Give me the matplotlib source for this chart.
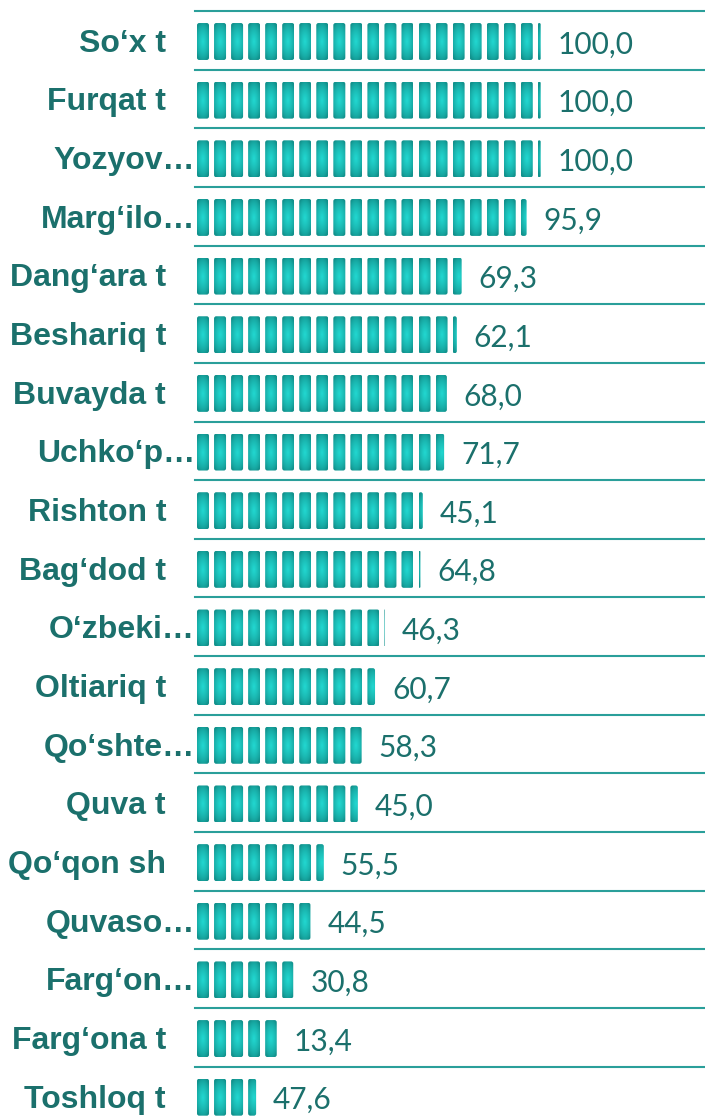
import numpy as np
import matplotlib
matplotlib.use('Agg')
import matplotlib.pyplot as plt
from matplotlib.patches import FancyBboxPatch

# district names as shown on the axis (long ones are cut with an ellipsis)
names = ['So‘x t', 'Furqat t', 'Yozyov…', 'Marg‘ilo…', 'Dang‘ara t',
         'Beshariq t', 'Buvayda t', 'Uchko‘p…', 'Rishton t', 'Bag‘dod t',
         'O‘zbeki…', 'Oltiariq t', 'Qo‘shte…', 'Quva t', 'Qo‘qon sh',
         'Quvaso…', 'Farg‘on…', 'Farg‘ona t', 'Toshloq t']
truncated = [False, False, True, True, False,
             False, False, True, False, False,
             True, False, True, False, False,
             True, True, False, False]

# bar length (top row = 100)
bar_vals = [100.0, 100.0, 100.0, 95.9, 77.0,
            75.6, 72.7, 71.9, 65.7, 65.0,
            54.7, 51.8, 47.9, 46.8, 36.9,
            33.0, 28.0, 23.2, 17.2]

# value printed next to each bar
labels = ['100,0', '100,0', '100,0', '95,9', '69,3',
          '62,1', '68,0', '71,7', '45,1', '64,8',
          '46,3', '60,7', '58,3', '45,0', '55,5',
          '44,5', '30,8', '13,4', '47,6']

W, H = 705, 1118
px = 3.437            # pixels per value unit
pitch = 17.04 / px    # symbol repeat distance
unit_w = 12.0 / px    # symbol width
unit_h = 0.63         # symbol height (fraction of row)

text_col = '#1b706c'
line_col = '#2a9f9a'
c_in = np.array([0x22, 0xd8, 0xd1]) / 255
c_out = np.array([0x12, 0x92, 0x8d]) / 255

# radial gradient used inside every symbol
gu, gv = np.meshgrid(np.linspace(-1, 1, 24), np.linspace(-1, 1, 60))
t = np.clip(1 - np.sqrt(0.55 * gu ** 2 + 0.85 * gv ** 2), 0, 1) ** 0.7
grad = c_out + (c_in - c_out) * t[..., None]

fig = plt.figure(figsize=(W / 100, H / 100), dpi=100)
top, row_px = 11, 58.65
n = len(names)
ax_h = n * row_px
ax = fig.add_axes([195 / W, (H - top - ax_h) / H, (W - 195) / W, ax_h / H])
x0 = -2 / px
ax.set_xlim(x0, x0 + (W - 195) / px)
ax.set_ylim(n - 0.5, -0.5)
ax.axis('off')

for i in range(n + 1):
    ax.axhline(i - 0.5, color=line_col, lw=1.5, zorder=1, clip_on=False)

aspect = px / row_px
for i, v in enumerate(bar_vals):
    k = 0
    while k * pitch < v:
        xs = k * pitch
        w = min(unit_w, v - xs)
        y0 = i + 0.02 - unit_h / 2
        r = min(2.2 / px, w / 2)
        patch = FancyBboxPatch((xs, y0), w, unit_h,
                               boxstyle=f'round,pad=0,rounding_size={r}',
                               mutation_aspect=aspect,
                               fc='none', ec='none', zorder=2)
        ax.add_patch(patch)
        im = ax.imshow(grad, extent=[xs, xs + unit_w, y0 + unit_h, y0],
                       aspect='auto', interpolation='bilinear', zorder=2)
        im.set_clip_path(patch)
        k += 1
    ax.text(v + 17 / px, i + 0.07, labels[i], ha='left', va='center',
            fontsize=21.5, family='Lato', color=text_col)

for i, name in enumerate(names):
    xr = x0 if truncated[i] else x0 - 29 / px
    ax.text(xr, i + 0.06, name, ha='right', va='center', fontsize=23,
            fontweight='bold', family=['Liberation Sans', 'DejaVu Sans'],
            color=text_col, clip_on=False)

fig.savefig('out.png', dpi=100)
